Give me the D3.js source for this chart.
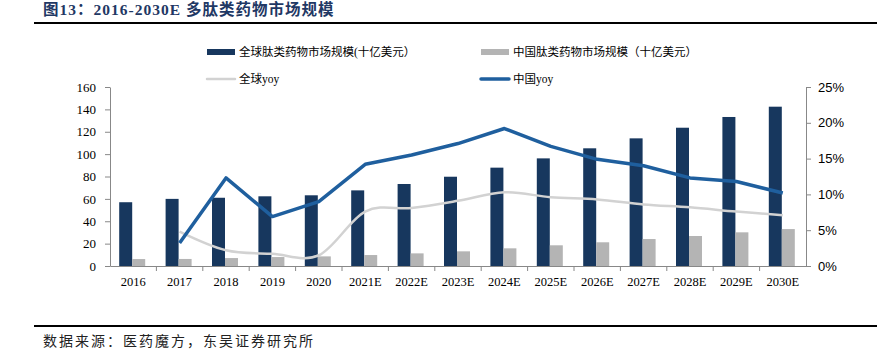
<!DOCTYPE html>
<html><head><meta charset="utf-8">
<script src="https://cdn.jsdelivr.net/npm/d3@7"></script>
<style>body{margin:0;background:#fff}svg{display:block}</style>
</head><body>
<svg id="c" width="877" height="359"></svg>
<script>
const categories = ["2016","2017","2018","2019","2020","2021E","2022E","2023E","2024E","2025E","2026E","2027E","2028E","2029E","2030E"];
const globalMarket = [57,60,61,62.3,63.2,67.6,73.3,79.8,87.9,96.2,105.2,114.1,123.6,133.2,142.4];
const chinaMarket = [6.2,6.3,7.1,8,8.6,9.8,11.3,13.1,15.8,18.5,21.2,24.1,26.8,30.1,33];
const globalYoy = [null,4.8,2.2,1.7,1.5,7.6,8.1,9.1,10.3,9.6,9.3,8.6,8.2,7.6,7.1];
const chinaYoy = [null,3.2,12.3,6.9,9.0,14.2,15.5,17.1,19.2,16.7,14.9,14.0,12.3,11.8,10.2];
const leftTicks = [0,20,40,60,80,100,120,140,160];
const rightTicks = [0,5,10,15,20,25];
const title = "图13：2016-2030E 多肽类药物市场规模";
const source = "数据来源：医药魔方，东吴证券研究所";
const legendLabels = ["全球肽类药物市场规模(十亿美元）","中国肽类药物市场规模（十亿美元）","全球yoy","中国yoy"];

const svg = d3.select("#c");
const L = 110, R = 806, T = 87, B = 266;
const navy = "#17375e", grayBar = "#b4b4b4", blueLine = "#1f5f9e", grayLine = "#d2d2d2";
const serif = "'Liberation Serif','Noto Sans CJK SC',serif";
const cjk = "'Liberation Serif','Noto Sans CJK SC',serif";

// title
svg.append("text").attr("x",43).attr("y",15).text(title)
  .attr("font-family",serif).attr("font-weight","bold").attr("font-size",15.5).attr("letter-spacing",1).attr("fill","#1f3864");
svg.append("line").attr("x1",34).attr("x2",877).attr("y1",23).attr("y2",23).attr("stroke","#000").attr("stroke-width",2);
svg.append("line").attr("x1",34).attr("x2",877).attr("y1",326).attr("y2",326).attr("stroke","#000").attr("stroke-width",2);
svg.append("text").attr("x",43).attr("y",346).text(source)
  .attr("font-family",cjk).attr("font-size",14).attr("letter-spacing",2).attr("fill","#222");

const x = d3.scaleBand().domain(categories).range([L,R]).padding(0);
const y = d3.scaleLinear().domain([0,160]).range([B,T]);
const y2 = d3.scaleLinear().domain([0,25]).range([B,T]);
const bw = 13;

// bars
svg.append("g").selectAll("rect").data(globalMarket).join("rect")
  .attr("x",(d,i)=>x(categories[i])+x.bandwidth()/2-bw-1).attr("width",bw)
  .attr("y",d=>y(d)).attr("height",d=>B-y(d)).attr("fill",navy);
svg.append("g").selectAll("rect").data(chinaMarket).join("rect")
  .attr("x",(d,i)=>x(categories[i])+x.bandwidth()/2-1).attr("width",bw)
  .attr("y",d=>y(d)).attr("height",d=>B-y(d)).attr("fill",grayBar);

// lines
const cx = (i)=>x(categories[i])+x.bandwidth()/2;
const gLine = d3.line().defined(d=>d!=null).x((d,i)=>cx(i)).y(d=>y2(d)).curve(d3.curveCardinal.tension(0));
const cLine = d3.line().defined(d=>d!=null).x((d,i)=>cx(i)).y(d=>y2(d));
svg.append("path").attr("d",gLine(globalYoy)).attr("fill","none").attr("stroke",grayLine).attr("stroke-width",2.5);
svg.append("path").attr("d",cLine(chinaYoy)).attr("fill","none").attr("stroke",blueLine).attr("stroke-width",3.5).attr("stroke-linejoin","round");

// axes
const axL = svg.append("g").attr("transform",`translate(${L},0)`)
  .call(d3.axisLeft(y).tickValues(leftTicks).tickSize(5).tickSizeOuter(0).tickPadding(9));
axL.selectAll("text").attr("font-family",serif).attr("font-size",13).attr("fill","#000");
const axR = svg.append("g").attr("transform",`translate(${R},0)`)
  .call(d3.axisRight(y2).tickValues(rightTicks).tickSize(5).tickSizeOuter(0).tickPadding(7).tickFormat(d=>d+"%"));
axR.selectAll("text").attr("font-family","'Liberation Sans',Arial,sans-serif").attr("font-size",13).attr("fill","#000");
const axB = svg.append("g").attr("transform",`translate(0,${B})`)
  .call(d3.axisBottom(x).tickSize(0).tickPadding(11));
axB.selectAll("text").attr("font-family",serif).attr("font-size",12.5).attr("fill","#000");
// category separator ticks
svg.append("g").selectAll("line").data(categories.slice(1)).join("line")
  .attr("x1",d=>x(d)).attr("x2",d=>x(d)).attr("y1",B).attr("y2",B+5).attr("stroke","#888");
[axL,axR,axB].forEach(a=>{a.selectAll("path,line").attr("stroke","#888");});

// legend
const lg = svg.append("g").attr("font-family",cjk).attr("font-size",11.5).attr("fill","#000");
const items = [
  {x:207,y:52,type:"rect",c:navy,t:legendLabels[0]},
  {x:481,y:52,type:"rect",c:grayBar,t:legendLabels[1]},
  {x:207,y:79,type:"line",c:grayLine,t:legendLabels[2],w:2.5},
  {x:481,y:79,type:"line",c:blueLine,t:legendLabels[3],w:3.5}
];
items.forEach(it=>{
  if(it.type==="rect") lg.append("rect").attr("x",it.x).attr("y",it.y-3).attr("width",28).attr("height",6).attr("fill",it.c);
  else lg.append("line").attr("x1",it.x).attr("x2",it.x+28).attr("y1",it.y).attr("y2",it.y).attr("stroke",it.c).attr("stroke-width",it.w).attr("stroke-linecap","round");
  lg.append("text").attr("x",it.x+32).attr("y",it.y+4).text(it.t);
});
</script>
</body></html>
